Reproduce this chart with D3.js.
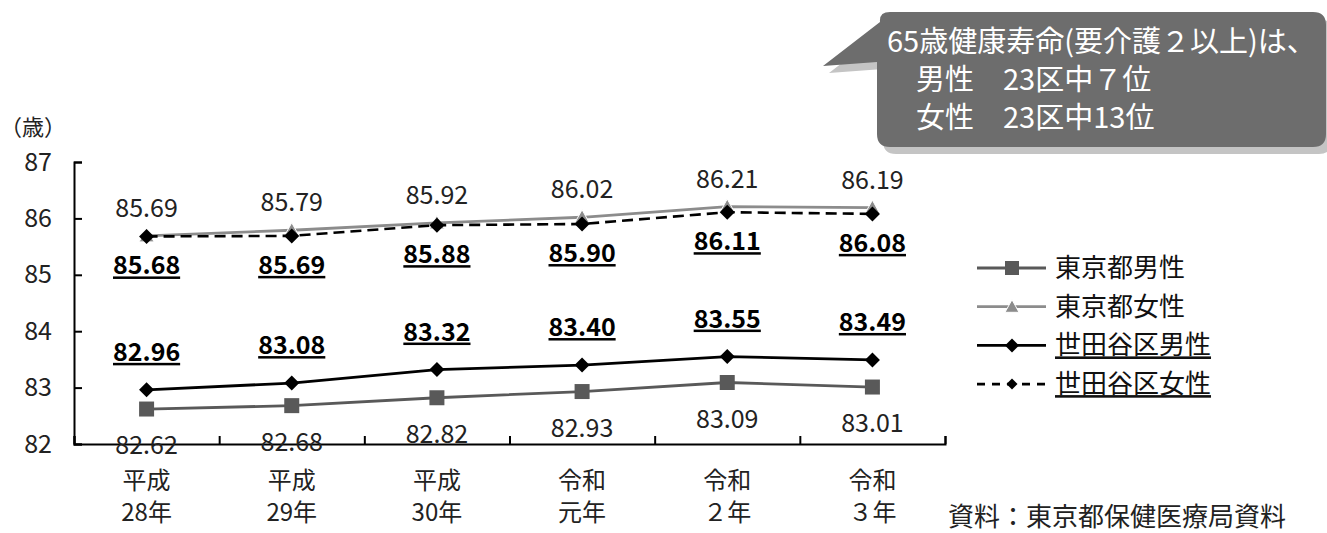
<!DOCTYPE html>
<html>
<head>
<meta charset="utf-8">
<script src="https://cdn.jsdelivr.net/npm/d3@7"></script>
<style>
    body { margin: 0; background: #fff; }
    svg text { font-family: "Noto Sans CJK JP", "Noto Sans", sans-serif; }
</style>
</head>
<body>
<svg id="chart"></svg>
<script>
let years = [['平成', '28年'], ['平成', '29年'], ['平成', '30年'], ['令和', '元年'], ['令和', '２年'], ['令和', '３年']]
let tokyoMale = [82.62, 82.68, 82.82, 82.93, 83.09, 83.01]
let tokyoFemale = [85.69, 85.79, 85.92, 86.02, 86.21, 86.19]
let setagayaMale = [82.96, 83.08, 83.32, 83.40, 83.55, 83.49]
let setagayaFemale = [85.68, 85.69, 85.88, 85.90, 86.11, 86.08]
let yTicks = [82, 83, 84, 85, 86, 87]
let seriesNames = ['東京都男性', '東京都女性', '世田谷区男性', '世田谷区女性']
let calloutLines = ['65歳健康寿命(要介護２以上)は、', '　男性　23区中７位', '　女性　23区中13位']
let sourceNote = '資料：東京都保健医療局資料'

let width = 1327,
    height = 533

let $svg = d3.select('#chart')
    .attr('width', width)
    .attr('height', height)

let plotLeft = 74,
    plotRight = 945

let scaleY = d3.scaleLinear().domain([82, 87]).range([444, 162])
let scaleX = d3.scaleBand().domain(d3.range(years.length)).range([plotLeft, plotRight])
let scaleEdge = d3.scaleLinear().domain([0, years.length]).range([plotLeft, plotRight])
let cx = (i) => scaleX(i) + scaleX.bandwidth() / 2
let fmt = d3.format('.2f')

// series styles
let series = [
    {name: seriesNames[0], values: tokyoMale, color: '#595959', width: 2.8, dash: null, marker: 'square', labelDy: 36, bold: false},
    {name: seriesNames[1], values: tokyoFemale, color: '#8c8c8c', width: 2.8, dash: null, marker: 'triangle', labelDy: -28, bold: false},
    {name: seriesNames[2], values: setagayaMale, color: '#000', width: 2.8, dash: null, marker: 'diamond', labelDy: -38, bold: true},
    {name: seriesNames[3], values: setagayaFemale, color: '#000', width: 2.6, dash: '11,6', marker: 'diamond', labelDy: 29, bold: true}
]

function markerPath(type, size) {
    let h = size / 2
    if (type === 'square') return `M${-h},${-h}H${h}V${h}H${-h}Z`
    if (type === 'triangle') return `M0,${-h}L${h},${h * 0.8}L${-h},${h * 0.8}Z`
    return `M0,${-h}L${h},0L0,${h}L${-h},0Z`
}

function drawMarker(g, s, x, y, size) {
    g.append('path')
        .attr('d', markerPath(s.marker, size))
        .attr('transform', `translate(${x},${y})`)
        .attr('fill', s.color)
        .attr('stroke', s.marker === 'triangle' ? '#fff' : 'none')
        .attr('stroke-width', 1)
}

// axes
let yAxis = d3.axisLeft(scaleY)
    .tickValues(yTicks)
    .tickFormat(d3.format('d'))
    .tickSizeInner(-8)
    .tickSizeOuter(-8)
    .tickPadding(22)

let $yAxis = $svg.append('g')
    .attr('transform', `translate(${plotLeft},0)`)
    .call(yAxis)
$yAxis.select('.domain').attr('stroke', '#000').attr('stroke-width', 2)
$yAxis.selectAll('.tick line').attr('stroke', '#000').attr('stroke-width', 2)
$yAxis.selectAll('.tick text')
    .attr('font-size', '25px')
    .attr('fill', '#222')
    .style('font-family', '"Noto Sans CJK JP", sans-serif')

let xAxis = d3.axisBottom(scaleEdge)
    .tickValues(d3.range(years.length + 1))
    .tickSizeInner(-8)
    .tickSizeOuter(-8)
    .tickFormat('')

let $xAxis = $svg.append('g')
    .attr('transform', `translate(0,${scaleY(82)})`)
    .call(xAxis)
$xAxis.select('.domain').attr('stroke', '#000').attr('stroke-width', 2)
$xAxis.selectAll('.tick line').attr('stroke', '#000').attr('stroke-width', 2)

// category labels
let $cats = $svg.append('g').selectAll('text.cat')
    .data(years)
    .enter().append('text')
    .attr('class', 'cat')
    .attr('text-anchor', 'middle')
    .attr('font-size', '24px')
    .attr('fill', '#222')
$cats.append('tspan')
    .attr('x', (d, i) => cx(i))
    .attr('y', 489)
    .text(d => d[0])
$cats.append('tspan')
    .attr('x', (d, i) => cx(i))
    .attr('y', 521)
    .text(d => d[1])

// unit
$svg.append('text')
    .attr('x', 0)
    .attr('y', 135)
    .attr('font-size', '22px')
    .attr('fill', '#222')
    .text('（歳）')

// lines
let lineFunction = d3.line()
    .x((d, i) => cx(i))
    .y(d => scaleY(d))

let $plot = $svg.append('g')
series.forEach(s => {
    $plot.append('path')
        .attr('d', lineFunction(s.values))
        .attr('fill', 'none')
        .attr('stroke', s.color)
        .attr('stroke-width', s.width)
        .attr('stroke-dasharray', s.dash)
    s.values.forEach((v, i) => {
        drawMarker($plot, s, cx(i), scaleY(v), 15)
    })
})

// data labels
series.forEach(s => {
    $svg.append('g').selectAll('text')
        .data(s.values)
        .enter().append('text')
        .attr('x', (d, i) => cx(i))
        .attr('y', d => scaleY(d) + s.labelDy + 9)
        .attr('text-anchor', 'middle')
        .attr('font-size', '25px')
        .attr('font-weight', s.bold ? 'bold' : 'normal')
        .attr('fill', s.bold ? '#000' : '#222')
        .attr('text-decoration', s.bold ? 'underline' : null)
        .text(d => fmt(d))
})

// legend
let legendTop = 268,
    legendGap = 38.7
let $legend = $svg.append('g')
series.forEach((s, i) => {
    let y = legendTop + i * legendGap
    let $row = $legend.append('g')
    $row.append('line')
        .attr('x1', 977).attr('x2', 1046)
        .attr('y1', y).attr('y2', y)
        .attr('stroke', s.color)
        .attr('stroke-width', s.width)
        .attr('stroke-dasharray', s.dash ? '8,7' : null)
    drawMarker($row, s, 1012, y, s.dash ? 11 : 14)
    $row.append('text')
        .attr('x', 1055)
        .attr('y', y + 9)
        .attr('font-size', '26px')
        .attr('fill', '#111')
        .attr('text-decoration', s.bold ? 'underline' : null)
        .text(s.name)
})

// source note
$svg.append('text')
    .attr('x', 948)
    .attr('y', 526)
    .attr('font-size', '26px')
    .attr('fill', '#222')
    .text(sourceNote)

// callout
function calloutShape(dx, dy) {
    let l = 877 + dx, r = 1326 + dx, t = 12 + dy, b = 147 + dy, rad = 13
    return `M${l + rad},${t}H${r - rad}Q${r},${t} ${r},${t + rad}V${b - rad}Q${r},${b} ${r - rad},${b}` +
        `H${l + rad}Q${l},${b} ${l},${b - rad}V${62 + dy}L${823 + dx},${66 + dy}L${880 + dx},${22 + dy}` +
        `Q${l + 2},${t} ${l + rad},${t}Z`
}
let $callout = $svg.append('g')
$callout.append('path')
    .attr('d', calloutShape(6, 7))
    .attr('fill', '#c4c4c4')
$callout.append('path')
    .attr('d', calloutShape(0, 0))
    .attr('fill', '#6d6d6d')
$callout.selectAll('text')
    .data(calloutLines)
    .enter().append('text')
    .attr('x', 887)
    .attr('y', (d, i) => 52 + i * 38)
    .attr('font-size', '29px')
    .attr('fill', '#fff')
    .text(d => d)
</script>
</body>
</html>
